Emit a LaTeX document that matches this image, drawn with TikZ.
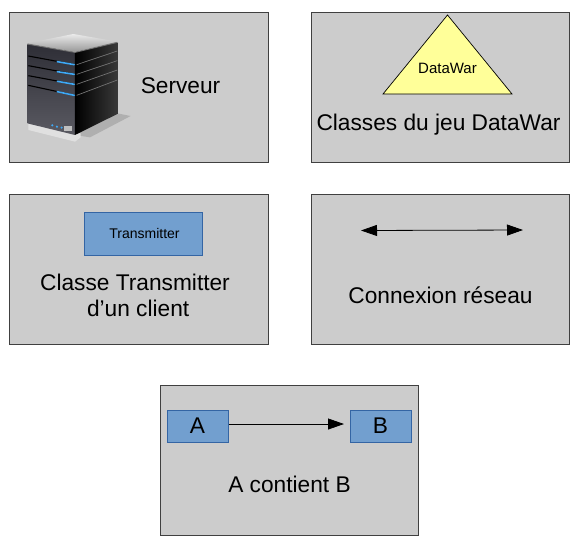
\documentclass[tikz,border=0pt]{standalone}
\usepackage{fontspec}
\setmainfont{Liberation Sans}
\usetikzlibrary{arrows.meta,fadings}
\definecolor{panelgray}{HTML}{CCCCCC}
\definecolor{boxblue}{HTML}{729FCF}
\definecolor{boxedge}{HTML}{3465A4}
\definecolor{triyellow}{HTML}{FFFF99}
\definecolor{ledblue}{HTML}{3FA9F5}
\definecolor{frontdark}{HTML}{2E2E36}
\definecolor{frontlight}{HTML}{5A5A62}
\tikzset{
  x=1pt,y=-1pt,
  panel/.style={draw=black!75,fill=panelgray,line width=0.8pt,minimum width=258.5pt,minimum height=150pt,inner sep=0,outer sep=0,anchor=north west},
  bluebox/.style={draw=boxedge,fill=boxblue,line width=0.7pt,inner sep=0,outer sep=0,anchor=north west},
  caption/.style={font=\fontsize{22.7}{27}\selectfont,align=center,inner sep=0,text=black},
  link/.style={draw=black,line width=0.8pt},
  slit/.style={line width=1.1pt,draw=black},
  sheen/.style={line width=0.7pt,draw=black!55},
  led/.style={line width=1.6pt,draw=ledblue,line cap=round},
  dot/.style={fill=ledblue},
}
\begin{document}
\begin{tikzpicture}
\useasboundingbox (0,0) rectangle (580,550);
% panels
\node[panel] (p1) at (9.7,12) {};
\node[panel] (p2) at (311,12) {};
\node[panel] (p3) at (9.7,194.5) {};
\node[panel] (p4) at (311,194.5) {};
\node[panel] (p5) at (160.3,385.2) {};
% server
\begin{scope}[shift={(10,20)},scale=0.3333]
  \fill[black,opacity=0.14] (195,345) -- (322,280) -- (362,288) -- (240,352) -- cycle;
  \fill[black!12] (55,312) -- (55,330) -- (195,365) -- (212,352) -- (212,340) -- cycle;
  \shade[top color=black!8,bottom color=black!40] (52,70) -- (190,42) -- (322,65) -- (195,95) -- cycle;
  \shade[top color=frontdark,bottom color=frontlight] (52,72) -- (195,97) -- (195,345) -- (52,310) -- cycle;
  \shade[left color=black,right color=black!78] (195,97) -- (322,67) -- (322,282) -- (195,345) -- cycle;
  \draw[black!55,line width=1pt] (52,72) -- (195,97) -- (322,67);
  \draw[slit] (55,108) -- (195,134);
  \draw[slit] (55,137) -- (195,163);
  \draw[slit] (55,167) -- (195,193);
  \draw[slit] (55,196) -- (195,226);
  \draw[sheen] (200,134) -- (322,93);
  \draw[sheen] (200,163) -- (322,122);
  \draw[sheen] (200,193) -- (322,150);
  \draw[sheen] (200,226) -- (322,180);
  \draw[led] (142,125) -- (193,134);
  \draw[led] (142,155) -- (193,163);
  \draw[led] (142,184) -- (193,193);
  \draw[led] (142,215) -- (193,226);
  \fill[dot] (127,316) circle (3.5);
  \fill[dot] (141,320) circle (3.5);
  \fill[dot] (155,323) circle (3.5);
  \fill[black!25] (161,318) rectangle (187,334);
\end{scope}
\node[caption] (t1) at (180.5,86) {Serveur};
% triangle
\path[draw=black,fill=triyellow,line width=0.7pt] (447.5,15) coordinate (ta) -- (512,94) coordinate (tb) -- (383,94) coordinate (tc) -- cycle;
\node[font=\fontsize{15}{18}\selectfont,inner sep=0] (t2) at (447.5,68) {DataWar};
\node[caption] (t3) at (438.5,124.5) {Classes du jeu DataWar};
% transmitter
\node[bluebox,minimum width=118pt,minimum height=43pt] (tr) at (84.8,212.2) {};
\node[font=\fontsize{14}{17}\selectfont,inner sep=0] (t4) at (144.5,233) {Transmitter};
\node[caption] (t5) at (135,295) {Classe Transmitter\\[-1pt]\ d’un client};
% network
\coordinate (na) at (361,230.5);
\coordinate (nb) at (523,230);
\draw[link,{Triangle[length=16pt,width=11pt]}-{Triangle[length=16pt,width=11pt]}] (na) -- (nb);
\node[caption] (t6) at (440.5,295) {Connexion réseau};
% A contient B
\node[bluebox,minimum width=61pt,minimum height=32pt] (a) at (167.5,410) {};
\node[bluebox,minimum width=61pt,minimum height=32pt] (b) at (350.5,410) {};
\node[caption] (ta2) at (197.5,426) {A};
\node[caption] (tb2) at (380.5,426) {B};
\coordinate (ar) at (344,424);
\draw[link,-{Triangle[length=16pt,width=11pt]}] (a.east |- ar) -- (ar);
\node[caption] (t7) at (289.5,484.5) {A contient B};
\end{tikzpicture}
\end{document}
